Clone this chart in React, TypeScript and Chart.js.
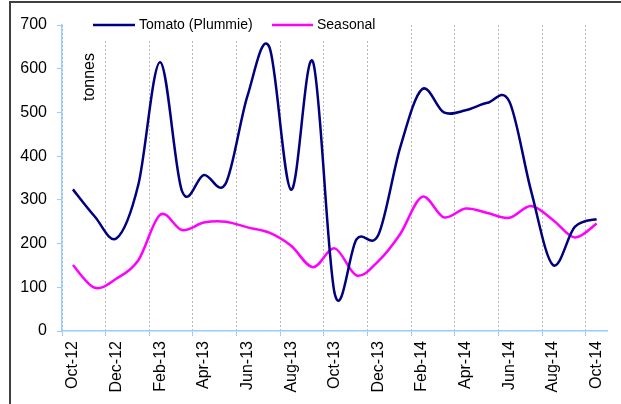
import React, { useEffect, useRef } from "react";
import { Chart, registerables } from "chart.js";

Chart.register(...registerables);

const months = [
  "Oct-12", "Nov-12", "Dec-12", "Jan-13", "Feb-13", "Mar-13", "Apr-13", "May-13",
  "Jun-13", "Jul-13", "Aug-13", "Sep-13", "Oct-13", "Nov-13", "Dec-13", "Jan-14",
  "Feb-14", "Mar-14", "Apr-14", "May-14", "Jun-14", "Jul-14", "Aug-14", "Sep-14", "Oct-14",
];

const tomato = [
  324, 262, 212, 335, 615, 320, 357, 337, 538, 650, 323, 616, 85,
  210, 220, 420, 553, 500, 505, 522, 525, 320, 151, 238, 256,
];

const seasonal = [
  151, 99, 120, 162, 266, 231, 248, 250, 237, 225, 195, 146, 189,
  127, 160, 222, 307, 260, 280, 270, 259, 286, 254, 214, 246,
];

const seriesNames = ["Tomato (Plummie)", "Seasonal"];
const seriesColors = ["#000080", "#ff00ff"];
const yTitle = "tonnes";
const FONT = "'Liberation Sans', Arial, sans-serif";

// Uniform Catmull-Rom style smoothing (like a spreadsheet "smoothed line")
const smoothPlugin = {
  id: "smooth",
  beforeDatasetDraw(chart: any, args: any) {
    const meta = args.meta;
    const line = meta.dataset;
    if (!line) return;
    const pts = meta.data;
    const n = pts.length;
    const k = 1 / 6;
    for (let i = 0; i < n; i++) {
      const p = pts[i];
      const a = pts[Math.max(0, i - 1)];
      const b = pts[Math.min(n - 1, i + 1)];
      const dx = b.x - a.x;
      const dy = b.y - a.y;
      p.cp1x = p.x - k * dx;
      p.cp1y = p.y - k * dy;
      p.cp2x = p.x + k * dx;
      p.cp2y = p.y + k * dy;
    }
    line._pointsUpdated = true;
    line._path = undefined;
  },
};

const decorPlugin = {
  id: "decor",
  beforeDatasetsDraw(chart: any) {
    const ctx = chart.ctx;
    ctx.save();
    ctx.fillStyle = "#ffffff";
    ctx.fillRect(80, 10, 310, 31);
    ctx.restore();
  },
  afterDraw(chart: any) {
    const ctx = chart.ctx;
    ctx.save();
    ctx.strokeStyle = "#404040";
    ctx.lineWidth = 2;
    ctx.beginPath();
    ctx.moveTo(10, 404);
    ctx.lineTo(10, 2);
    ctx.lineTo(621, 2);
    ctx.stroke();
    const items = [
      { x1: 93, x2: 135, tx: 139 },
      { x1: 272, x2: 313, tx: 317 },
    ];
    ctx.font = `14px ${FONT}`;
    ctx.textBaseline = "middle";
    ctx.textAlign = "left";
    items.forEach((it, i) => {
      ctx.strokeStyle = seriesColors[i];
      ctx.lineWidth = 2.5;
      ctx.beginPath();
      ctx.moveTo(it.x1, 25);
      ctx.lineTo(it.x2, 25);
      ctx.stroke();
      ctx.fillStyle = "#000";
      ctx.fillText(seriesNames[i], it.tx, 25);
    });
    ctx.translate(90, 77);
    ctx.rotate(-Math.PI / 2);
    ctx.font = `16px ${FONT}`;
    ctx.textAlign = "center";
    ctx.fillStyle = "#000";
    ctx.fillText(yTitle, 0, 0);
    ctx.restore();
  },
};

export default function App() {
  const ref = useRef<HTMLCanvasElement | null>(null);
  useEffect(() => {
    if (!ref.current) return;
    const chart = new Chart(ref.current, {
      type: "line",
      data: {
        labels: months,
        datasets: [
          {
            label: seriesNames[0],
            data: tomato,
            borderColor: seriesColors[0],
            backgroundColor: seriesColors[0],
            borderWidth: 2.5,
            pointRadius: 0,
            tension: 0.4,
            fill: false,
          },
          {
            label: seriesNames[1],
            data: seasonal,
            borderColor: seriesColors[1],
            backgroundColor: seriesColors[1],
            borderWidth: 2.5,
            pointRadius: 0,
            tension: 0.4,
            fill: false,
          },
        ],
      },
      options: {
        responsive: false,
        maintainAspectRatio: false,
        animation: false,
        layout: { padding: { left: 0, top: 25, right: 10, bottom: 0 } },
        plugins: { legend: { display: false }, tooltip: { enabled: false } },
        scales: {
          x: {
            type: "category",
            offset: true,
            afterFit: (s: any) => {
              s.height = 73;
            },
            grid: {
              offset: true,
              drawOnChartArea: true,
              color: (c: any) => (c.index % 2 === 0 ? "#b8b8b8" : "rgba(0,0,0,0)"),
              tickColor: (c: any) => (c.index % 2 === 0 ? "#99ccff" : "rgba(0,0,0,0)"),
              tickLength: 5,
              lineWidth: 1,
            },
            border: { color: "#99ccff", width: 1.5, dash: [2, 2] },
            ticks: {
              autoSkip: false,
              maxRotation: 90,
              minRotation: 90,
              padding: 5,
              color: "#000",
              font: { family: FONT, size: 16 },
              callback: function (this: any, val: any, idx: number) {
                return idx % 2 === 0 ? months[idx] : "";
              },
            },
          },
          y: {
            min: 0,
            max: 700,
            afterFit: (s: any) => {
              s.width = 62;
            },
            grid: {
              drawOnChartArea: false,
              drawTicks: true,
              tickLength: 5,
              tickColor: "#99ccff",
            },
            border: { color: "#99ccff", width: 1.5 },
            ticks: {
              stepSize: 100,
              padding: 10,
              color: "#000",
              font: { family: FONT, size: 16 },
            },
          },
        },
      },
      plugins: [smoothPlugin, decorPlugin],
    });
    return () => chart.destroy();
  }, []);
  return (
    <div style={{ position: "fixed", left: 0, top: 0, width: 621, height: 404, background: "#fff" }}>
      <canvas ref={ref} width={621} height={404} style={{ width: 621, height: 404, display: "block" }} />
    </div>
  );
}
